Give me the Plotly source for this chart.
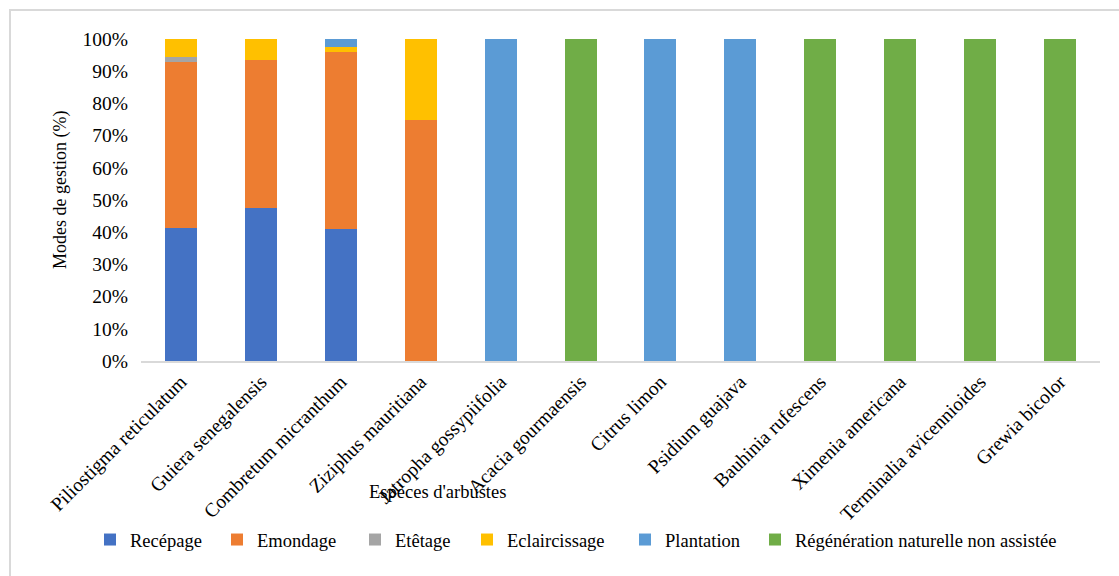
import plotly.graph_objects as go

# Shrub species (x categories)
especes = [
    "Piliostigma reticulatum", "Guiera senegalensis", "Combretum micranthum",
    "Ziziphus mauritiana", "Jatropha gossypiifolia", "Acacia gourmaensis",
    "Citrus limon", "Psidium guajava", "Bauhinia rufescens",
    "Ximenia americana", "Terminalia avicennioides", "Grewia bicolor",
]

# Share of each management mode per species (%)
recepage      = [41.2, 47.4, 40.9, 0, 0, 0, 0, 0, 0, 0, 0, 0]
emondage      = [51.8, 46.1, 55.2, 75, 0, 0, 0, 0, 0, 0, 0, 0]
etetage       = [1.5, 0, 0, 0, 0, 0, 0, 0, 0, 0, 0, 0]
eclaircissage = [5.5, 6.5, 1.5, 25, 0, 0, 0, 0, 0, 0, 0, 0]
plantation    = [0, 0, 2.4, 0, 100, 0, 100, 100, 0, 0, 0, 0]
regeneration  = [0, 0, 0, 0, 0, 100, 0, 0, 100, 100, 100, 100]

y_ticks = [0, 10, 20, 30, 40, 50, 60, 70, 80, 90, 100]
y_tick_text = [f"{v}%" for v in y_ticks]

series = [
    ("Recépage", recepage, "#4472C4"),
    ("Emondage", emondage, "#ED7D31"),
    ("Etêtage", etetage, "#A5A5A5"),
    ("Eclaircissage", eclaircissage, "#FFC000"),
    ("Plantation", plantation, "#5B9BD5"),
    ("Régénération naturelle non assistée", regeneration, "#70AD47"),
]

# left edge (px) of each legend label along the bottom row
legend_text_x = [131, 258, 396, 508, 666, 796]

FONT = "Liberation Serif"

W, H = 1119, 576
L, R, T, B = 141, 19, 39, 215
pw, ph = W - L - R, H - T - B

def px_x(x):
    return (x - L) / pw

def px_y(y):
    return (H - y - B) / ph

fig = go.Figure()
legends = {}
for i, (name, vals, color) in enumerate(series):
    key = "legend" if i == 0 else f"legend{i + 1}"
    fig.add_trace(go.Bar(
        x=especes, y=vals, name=name, legend=key,
        marker=dict(color=color, line=dict(width=0)),
    ))
    legends[key] = dict(
        orientation="h", x=px_x(legend_text_x[i] - 41), y=px_y(540),
        xanchor="left", yanchor="middle",
        font=dict(size=18.5, family=FONT, color="#000000"),
        itemwidth=30, bgcolor="rgba(0,0,0,0)",
    )

fig.update_layout(
    width=W, height=H,
    barmode="stack", bargap=0.6,
    margin=dict(l=L, r=R, t=T, b=B, autoexpand=False),
    paper_bgcolor="white", plot_bgcolor="white",
    font=dict(family=FONT, color="#000000", size=18.5),
    showlegend=True,
    xaxis=dict(
        tickangle=-45, tickfont=dict(size=19.5, family=FONT),
        showline=True, linecolor="#D9D9D9", linewidth=1.5,
        showgrid=False, ticks="", automargin=False,
    ),
    yaxis=dict(
        range=[0, 100], tickvals=y_ticks, ticktext=y_tick_text,
        tickfont=dict(size=19.5, family=FONT),
        showgrid=False, zeroline=False, showline=False,
        ticks="", ticklabelstandoff=12, automargin=False,
    ),
    annotations=[
        dict(text="Modes de gestion (%)", textangle=-90,
             xref="paper", yref="paper", x=px_x(60), y=px_y(190),
             xanchor="center", yanchor="middle", showarrow=False,
             font=dict(size=18, family=FONT)),
        dict(text="Espèces d'arbustes",
             xref="paper", yref="paper", x=px_x(437), y=px_y(492),
             xanchor="center", yanchor="middle", showarrow=False,
             font=dict(size=18.5, family=FONT)),
    ],
    shapes=[
        dict(type="rect", xref="paper", yref="paper",
             x0=px_x(10), x1=px_x(W + 10), y0=px_y(H + 10), y1=px_y(10),
             line=dict(color="#D9D9D9", width=2), fillcolor="rgba(0,0,0,0)",
             layer="below"),
    ],
    **legends,
)

fig.write_html("out.html")
